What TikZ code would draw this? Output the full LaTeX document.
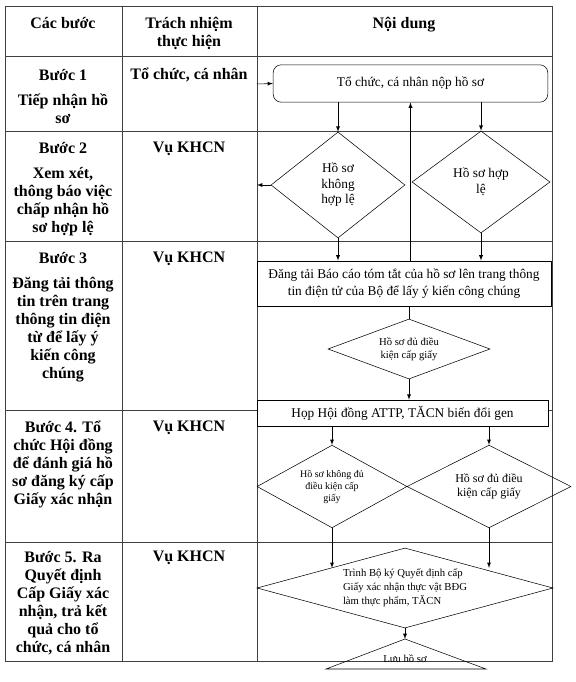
\documentclass[tikz,border=0pt]{standalone}
\usepackage{fontspec}
\setmainfont{Liberation Serif}
\usetikzlibrary{shapes.geometric}

\begin{document}
\begin{tikzpicture}[x=0.75pt,y=-0.75pt]
% Styles
\tikzstyle{cadre}=[line width=0.7pt,black!75]
\tikzstyle{fleche}=[->,>=latex,thin]
\tikzstyle{titre}=[font=\bfseries\fontsize{12}{13.5}\selectfont,align=center,anchor=north,inner sep=0pt]
\tikzstyle{texte}=[font=\fontsize{10}{12.75}\selectfont,align=center]
\tikzstyle{boite}=[draw,thin,fill=white,texte,inner sep=0pt]
\tikzstyle{losange}=[draw,thin,diamond,inner sep=0pt,align=center]
% Largeur du tableau
\def\gauche{5}
\def\colA{122}
\def\colB{257}
\def\droite{552}
% Hauteur du tableau
\def\haut{6}
\def\ligneA{56}
\def\ligneB{131}
\def\ligneC{241}
\def\ligneD{410}
\def\ligneE{542}
\def\bas{661}
\useasboundingbox (0,0) rectangle (575,682);
% Encadrement
\draw[cadre] (\gauche,\haut) rectangle (\droite,\bas);
\foreach \y in {\ligneA,\ligneB,\ligneC,\ligneD,\ligneE}
  \draw[cadre] (\gauche,\y) -- (\droite,\y);
\draw[cadre] (\colA,\haut) -- (\colA,\bas);
\draw[cadre] (\colB,\haut) -- (\colB,\bas);
% Ligne d'en-tete
\node[titre] (hEtapes) at (63,17) {Các bước};
\node[titre] (hResp) at (189,17) {Trách nhiệm\\thực hiện};
\node[titre] (hContenu) at (404,17) {Nội dung};
% Colonnes : etapes et responsables
\node[titre] (e1) at (63,69) {Bước 1\\[5pt]Tiếp nhận hồ\\sơ};
\node[titre] (r1) at (189,68) {Tổ chức, cá nhân};
\node[titre] (e2) at (63,142) {Bước 2\\[5pt]Xem xét,\\thông báo việc\\chấp nhận hồ\\sơ hợp lệ};
\node[titre] (r2) at (189,142) {Vụ KHCN};
\node[titre] (e3) at (63,252) {Bước 3\\[5pt]Đăng tải thông\\tin trên trang\\thông tin điện\\từ để lấy ý\\kiến công\\chúng};
\node[titre] (r3) at (189,252) {Vụ KHCN};
\node[titre] (e4) at (63,421) {Bước 4. Tổ\\chức Hội đồng\\để đánh giá hồ\\sơ đăng ký cấp\\Giấy xác nhận};
\node[titre] (r4) at (189,421) {Vụ KHCN};
\node[titre] (e5) at (63,551) {Bước 5. Ra\\Quyết định\\Cấp Giấy xác\\nhận, trả kết\\quả cho tổ\\chức, cá nhân};
\node[titre] (r5) at (189,551) {Vụ KHCN};
% Colonne du contenu
\node[boite,rounded corners=6pt,minimum width=206pt,minimum height=28pt] (nop) at (410.5,83.5) {Tổ chức, cá nhân nộp hồ sơ};
\node[losange,texte,font=\fontsize{10}{11.6}\selectfont,minimum width=100.5pt,minimum height=79.5pt] (d1) at (338,185) {Hồ sơ\\không\\hợp lệ};
\node[losange,texte,font=\fontsize{10}{12}\selectfont,minimum width=103.5pt,minimum height=76.5pt] (d2) at (481,182) {Hồ sơ hợp\\lệ};
\node[boite,minimum width=220.5pt,minimum height=34pt] (dangtai) at (404,283.5) {Đăng tải Báo cáo tóm tắt của hồ sơ lên trang thông\\tin điện tử của Bộ để lấy ý kiến công chúng};
\node[losange,font=\fontsize{8}{10}\selectfont,shape aspect=2.5,minimum width=121.5pt,minimum height=45pt] (d3) at (409,349) {Hồ sơ đủ điều\\kiện cấp giấy};
\node[boite,minimum width=218pt,minimum height=19.5pt] (hop) at (402.5,413) {Họp Hội đồng ATTP, TĂCN biến đổi gen};
\node[losange,font=\fontsize{7.5}{9}\selectfont,shape aspect=1.5,minimum width=112.5pt,minimum height=62pt] (d4) at (332,486.5) {Hồ sơ không đủ\\điều kiện cấp\\giấy};
\node[losange,font=\fontsize{9}{10.5}\selectfont,shape aspect=1.5,minimum width=123pt,minimum height=62pt] (d5) at (489,486.5) {Hồ sơ đủ điều\\kiện cấp giấy};
\node[losange,align=left,font=\fontsize{8}{10.5}\selectfont,shape aspect=3.7,minimum width=222pt,minimum height=60pt] (d6) at (405,588) {Trình Bộ ký Quyết định cấp\\Giấy xác nhận thực vật BĐG\\làm thực phẩm, TĂCN};
\coordinate (sommet) at (405,639);
\draw[thin] (sommet) -- (326,669) -- (486,669) -- cycle;
\node[font=\fontsize{8}{10}\selectfont] (luu) at (405,659) {Lưu hồ sơ};
% Fleches
\coordinate (entree) at (\colB,84);
\coordinate (retour) at (\colB,185);
\draw[fleche] (entree) -- (nop.west);
\draw[fleche] (nop.south -| d1.north) -- (d1.north);
\draw[fleche] (nop.south -| d2.north) -- (d2.north);
\draw[fleche] (d1.west) -- (retour);
\draw[fleche] (d1.south) -- (d1.south |- dangtai.north);
\draw[fleche] (d2.south) -- (d2.south |- dangtai.north);
\draw[fleche] (dangtai.north -| nop.south) -- (nop.south);
\draw[thin] (dangtai.south -| d3.north) -- (d3.north);
\draw[fleche] (d3.south) -- (d3.south |- hop.north);
\draw[fleche] (hop.south -| d4.north) -- (d4.north);
\draw[fleche] (hop.south -| d5.north) -- (d5.north);
\draw[fleche] (d4.south) -- (d4.south |- d6.north west);
\draw[fleche] (d5.south) -- (d5.south |- d6.north east);
\draw[fleche] (d6.south) -- (sommet);
\end{tikzpicture}
\end{document}
